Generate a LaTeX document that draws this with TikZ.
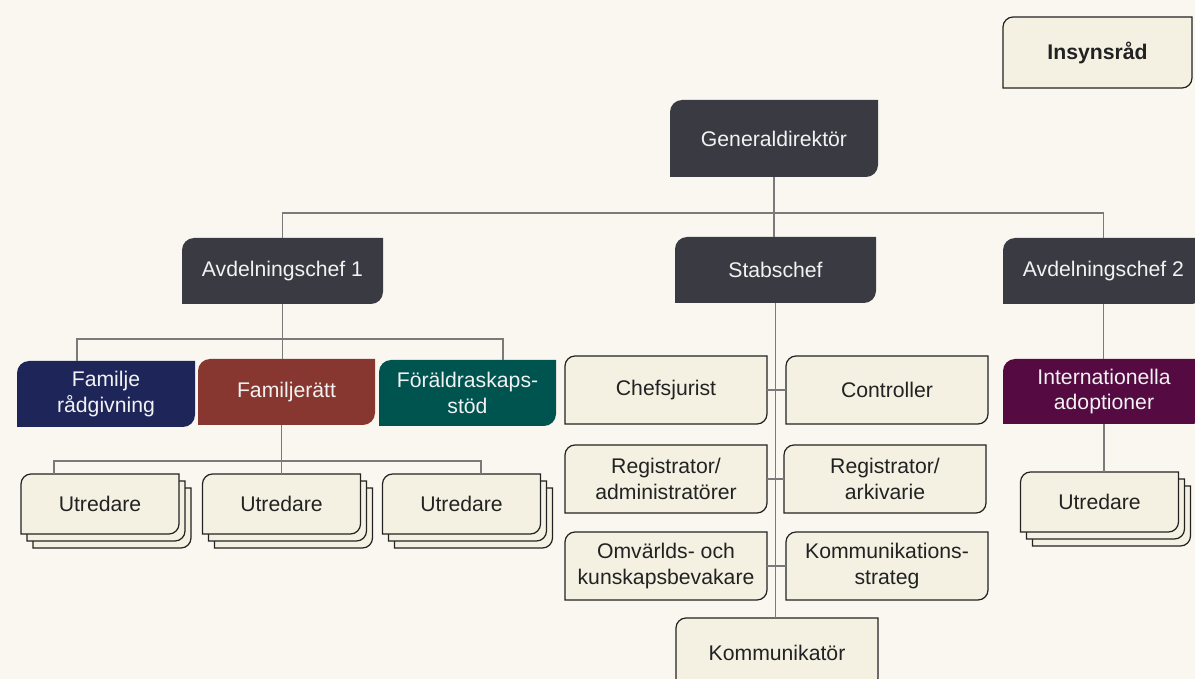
\documentclass[tikz,border=0pt]{standalone}
\usepackage{fontspec}
\setmainfont{Liberation Sans}
\usepackage{xcolor}
\usepackage{tikz}
\usetikzlibrary{positioning, backgrounds}

\definecolor{paper}{HTML}{FAF7F0}
\definecolor{lead}{HTML}{3A3A42}
\definecolor{navy}{HTML}{1E2559}
\definecolor{brick}{HTML}{873730}
\definecolor{pine}{HTML}{005450}
\definecolor{plum}{HTML}{560A42}
\definecolor{cardfill}{HTML}{F4F1E3}
\definecolor{ink}{HTML}{222222}
\definecolor{wire}{HTML}{7A7A7A}
\definecolor{headtext}{HTML}{F2F2F2}

\begin{document}
\begin{tikzpicture}[
    x=0.5pt, y=-0.5pt,
    box/.style={rectangle, inner sep=0pt, outer sep=0pt, align=center, font=\fontsize{10.6}{12.8}\selectfont},
    head/.style={box, text=headtext, minimum width=100.5pt, minimum height=33pt},
    unit/.style={box, text=headtext, minimum width=89pt, minimum height=33pt},
    staff/.style={box, text=ink, minimum width=101pt, minimum height=34pt},
    worker/.style={box, text=ink, minimum width=79pt, minimum height=30pt},
    card/.style={fill=cardfill, draw=ink, line width=0.6pt},
    link/.style={draw=wire, line width=0.6pt},
    tab/.style n args={3}{insert path={([shift={(#3)},xshift=#2]#1.north west) .. controls ([shift={(#3)},xshift=0.45*#2]#1.north west) and ([shift={(#3)},yshift=-0.45*#2]#1.north west) .. ([shift={(#3)},yshift=-#2]#1.north west) -- ([shift={(#3)}]#1.south west) -- ([shift={(#3)},xshift=-#2]#1.south east) .. controls ([shift={(#3)},xshift=-0.45*#2]#1.south east) and ([shift={(#3)},yshift=0.45*#2]#1.south east) .. ([shift={(#3)},yshift=#2]#1.south east) -- ([shift={(#3)}]#1.north east) -- cycle}}
]
\useasboundingbox (0,0) rectangle (1195,679);

% Ledning
\node[staff, font=\fontsize{10.6}{12.8}\selectfont\bfseries, minimum width=94.5pt, minimum height=35.5pt] (insyn) at (1097.5,52.5) {Insynsråd};
\node[head, minimum width=104pt, minimum height=38.5pt] (gd) at (774,138.5) {Generaldirektör};
\node[head] (avd1) at (282.5,271) {Avdelningschef 1};
\node[head] (stab) at (775.5,270) {Stabschef};
\node[head] (avd2) at (1103.5,271) {Avdelningschef 2};

% Enheter
\node[unit] (famrad) at (106,394) {Familje\\rådgivning};
\node[unit, minimum width=88.5pt] (famratt) at (286.5,392) {Familjerätt};
\node[unit, minimum width=88.5pt] (forald) at (467.5,393) {Föräldraskaps-\\stöd};
\node[unit, minimum width=101pt, minimum height=32.5pt] (intad) at (1104,391.5) {Internationella\\adoptioner};

% Utredare
\node[worker] (utr1) at (100,504) {Utredare};
\node[worker] (utr2) at (281.5,504) {Utredare};
\node[worker] (utr3) at (461.5,504) {Utredare};
\node[worker] (utr4) at (1099.5,502) {Utredare};

% Stab
\node[staff] (chef) at (666,390) {Chefsjurist};
\node[staff] (contr) at (887,390) {Controller};
\node[staff] (regadm) at (666,479) {Registrator/\\administratörer};
\node[staff] (regark) at (885,479) {Registrator/\\arkivarie};
\node[staff] (omv) at (666,566) {Omvärlds- och\\kunskapsbevakare};
\node[staff] (kstrat) at (887,566) {Kommunikations-\\strateg};
\node[staff, minimum height=35pt] (kommu) at (777,653) {Kommunikatör};

% Linjer
\coordinate (top) at (774,213);
\coordinate (bar1) at (283,339);
\coordinate (bar2) at (281.5,461);
\draw[link] (gd.south) -- (gd.south |- stab.north);
\draw[link] (avd1.north) |- (top) -| (avd2.north);
\draw[link] (avd1.south) -- (avd1.south |- famratt.north);
\draw[link] ([xshift=-14.5pt]famrad.north) |- (bar1) -| ([xshift=17.75pt]forald.north);
\draw[link] (utr2.north |- famratt.south) -- (utr2.north);
\draw[link] ([xshift=-23pt]utr1.north) |- (bar2) -| ([xshift=9.75pt]utr3.north);
\draw[link] (stab.south) -- (stab.south |- kommu.north);
\draw[link] (chef.east) -- (contr.west);
\draw[link] (regadm.east) -- (regark.west);
\draw[link] (omv.east) -- (kstrat.west);
\draw[link] (avd2.south) -- (avd2.south |- intad.north);
\draw[link] (intad.south) -- (intad.south |- utr4.north);

% Rutor
\begin{scope}[on background layer]
\fill[paper] (0,0) rectangle (1195,679);
\foreach \n/\col in {gd/lead, avd1/lead, stab/lead, avd2/lead, famrad/navy, famratt/brick, forald/pine, intad/plum}
  \path[fill=\col, tab={\n}{6pt}{0,0}];
\foreach \n in {utr1, utr2, utr3, utr4} {
  \path[card, tab={\n}{5pt}{12,14}];
  \path[card, tab={\n}{5pt}{6,7}];
}
\foreach \n in {insyn, chef, contr, regadm, regark, omv, kstrat, kommu, utr1, utr2, utr3, utr4}
  \path[card, tab={\n}{5pt}{0,0}];
\end{scope}

\end{tikzpicture}
\end{document}
